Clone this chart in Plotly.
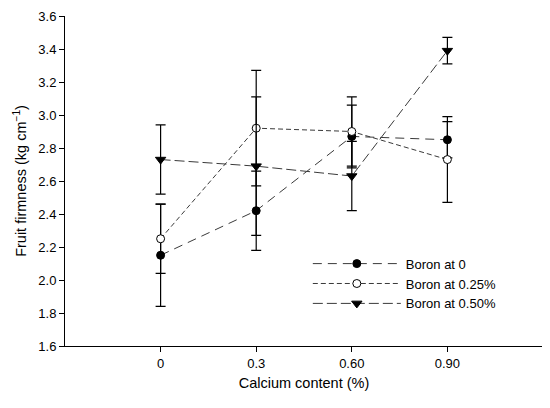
import plotly.graph_objects as go

# Calcium treatments (x categories)
calcium = ["0", "0.3", "0.60", "0.90"]

# Fruit firmness means and error bars per boron level
boron_0 = [2.15, 2.42, 2.87, 2.85]
boron_0_err = [0.31, 0.24, 0.19, 0.11]

boron_025 = [2.25, 2.92, 2.90, 2.73]
boron_025_err = [0.21, 0.35, 0.21, 0.26]

boron_050 = [2.73, 2.69, 2.63, 3.39]
boron_050_err = [0.21, 0.42, 0.21, 0.08]

series_names = ["Boron at 0", "Boron at 0.25%", "Boron at 0.50%"]

FONT = "Liberation Sans, Arial, sans-serif"


def add_series(fig, y, err, name, dash, symbol, fill, size):
    fig.add_trace(go.Scatter(
        x=calcium, y=y, name=name, mode="lines+markers",
        line=dict(color="#3a3a3a", width=1, dash=dash),
        marker=dict(symbol=symbol, size=size, color=fill,
                    line=dict(color="black", width=1)),
        error_y=dict(type="data", array=err, visible=True,
                     color="black", thickness=1.2, width=5),
    ))


fig = go.Figure()
add_series(fig, boron_0, boron_0_err, series_names[0], "9px,6px", "circle", "black", 8)
add_series(fig, boron_025, boron_025_err, series_names[1], "5px,3px", "circle", "white", 8)
add_series(fig, boron_050, boron_050_err, series_names[2], "10px,4px", "triangle-down", "black", 9)

# the page body adds an 8px offset, so the figure is sized to fit inside it
fig.update_layout(
    width=542, height=400,
    margin=dict(l=57, r=7, t=8, b=62),
    paper_bgcolor="white", plot_bgcolor="white",
    font=dict(family=FONT, size=13, color="black"),
    showlegend=True,
    legend=dict(x=0.508, y=0.295, xanchor="left", yanchor="top",
                bgcolor="rgba(0,0,0,0)", font=dict(size=13),
                tracegroupgap=0, itemwidth=88),
)

fig.update_xaxes(
    type="category", categoryorder="array", categoryarray=calcium,
    range=[-1, 4],
    showline=True, linecolor="black", linewidth=1,
    ticks="outside", ticklen=5, tickcolor="black",
    showgrid=False, zeroline=False,
    title=dict(text="Calcium content (%)", font=dict(size=14.5), standoff=8),
)

fig.update_yaxes(
    range=[1.6, 3.6], dtick=0.2, tickformat=".1f",
    ticklabeloverflow="allow", automargin=False,
    showline=True, linecolor="black", linewidth=1,
    ticks="outside", ticklen=5, tickcolor="black",
    showgrid=False, zeroline=False,
    title=dict(text="Fruit firmness (kg cm<sup>−1</sup>)", font=dict(size=14.5), standoff=8),
)

fig.write_html("out.html")
